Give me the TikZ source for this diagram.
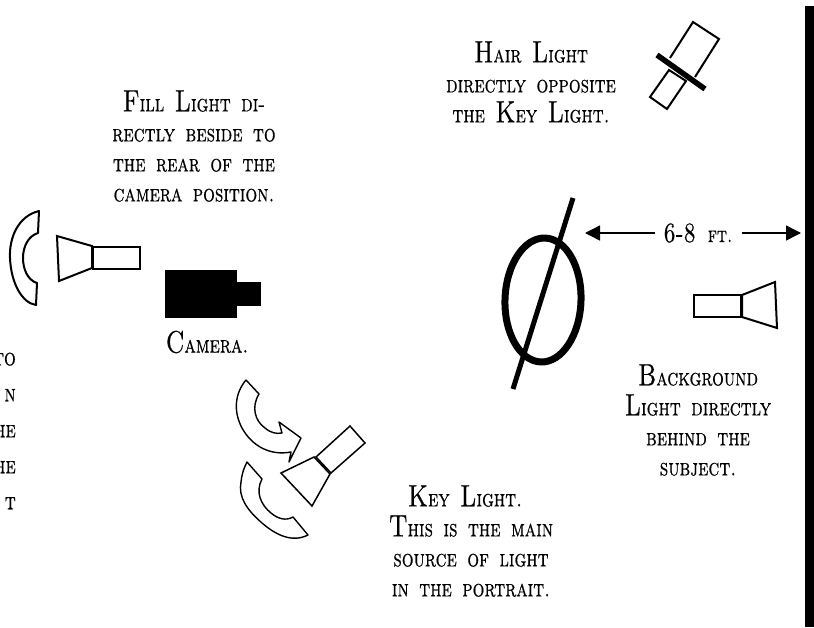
\documentclass[tikz,border=0pt]{standalone}
\usepackage{xcolor}
\usepackage{fontspec}
\newfontfamily\capfont[FakeStretch=0.77,FakeBold=0.5,WordSpace=1.5]{Latin Modern Roman Caps}
\newcommand{\ini}[1]{{\fontsize{31}{31}\selectfont #1}}
\usetikzlibrary{arrows.meta,shapes.geometric}
\tikzset{
  caption/.style={align=center, inner sep=0pt, font=\fontsize{24}{30}\capfont},
  fixture/.style={draw, line width=2pt, line join=miter, fill=white},
  keyfixture/.style={draw, line width=1.5pt, line join=miter, fill=white},
  shell/.style={draw, line width=1.4pt, line join=round, fill=white},
  span/.style={line width=1.4pt, -{Triangle[length=15pt,width=15pt]}}
}
\begin{document}
\begin{tikzpicture}[x=1pt, y=-1pt]
  \useasboundingbox (0,0) rectangle (814,627);
  % back wall and subject
  \fill (805,6) rectangle (814,627);
  \node (subject) [draw, ellipse, line width=7pt, minimum width=76pt, minimum height=124pt, inner sep=0pt, rotate=-2] at (543,300) {};
  \draw[line width=5pt] (573,198) -- (513,389);
  % distance
  \node (dist) [font=\fontsize{28}{30}\capfont, inner sep=0pt] at (698,233) {6-8 {\fontsize{22}{22}\selectfont ft.}};
  \coordinate (distl) at (585,233);
  \coordinate (distr) at (801,233);
  \draw[span] ([xshift=-8pt]dist.west) -- (distl);
  \draw[span] ([xshift=9pt]dist.east) -- (distr);
  % fill light
  \draw[shell, line width=2pt] (39,211) .. controls (18,216) and (9,238) .. (10,258) .. controls (11,283) and (22,303) .. (36,305) -- (37,283) .. controls (27,280) and (23,268) .. (23,258) .. controls (23,247) and (28,236) .. (38,233) -- cycle;
  \draw[fixture] (57,236) -- (92,246) -- (92,268) -- (59,281) -- cycle;
  \draw[fixture] (93,247) rectangle (140,269);
  % camera
  \fill (165,270) rectangle (237,318);
  \fill (237,282) rectangle (261,306);
  % key light
  \draw[shell] (246,380) -- (259,394) .. controls (251,407) and (255,421) .. (265,428) .. controls (271,433) and (276,434) .. (282,433) -- (279,422) -- (301,438) -- (289,462) -- (291,452) .. controls (270,456) and (252,446) .. (242,428) .. controls (233,411) and (235,393) .. (246,380) -- cycle;
  \draw[shell] (247,462) -- (262,479) .. controls (255,492) and (261,505) .. (271,513) .. controls (278,519) and (286,521) .. (293,517) -- (308,535) .. controls (292,543) and (276,535) .. (262,523) .. controls (247,510) and (238,497) .. (241,482) .. controls (242,473) and (244,468) .. (247,462) -- cycle;
  \draw[keyfixture] (281,473) -- (314,457) -- (330,474) -- (312,506) -- cycle;
  \draw[keyfixture] (316,457) -- (350,426) -- (365,443) -- (331,473) -- cycle;
  % hair light
  \draw[fixture] (670,58) -- (693,22) -- (719,39) -- (695,77);
  \draw[fixture] (669,70) -- (686,81) -- (667,109) -- (650,97) -- cycle;
  \draw[line width=5.5pt] (657,55) -- (705,89);
  % background light
  \draw[fixture] (694,295) rectangle (741,317);
  \draw[fixture] (742,295) -- (775,282) -- (777,328) -- (742,317) -- cycle;
  % labels
  \node (hair) [caption] at (531,82) {\ini{H}air \ini{L}ight\\ directly opposite\\ the \ini{K}ey \ini{L}ight.};
  \node (fill) [caption] at (194,146) {\ini{F}ill \ini{L}ight di-\\ rectly beside to\\ the rear of the\\ camera position.};
  \node (cam) [caption] at (207,342) {\ini{C}amera.};
  \node (key) [caption] at (471,541) {\ini{K}ey \ini{L}ight.\hspace*{12pt}\\ \ini{T}his is the main\\ source of light\\ in the portrait.};
  \node (bg) [caption] at (698,420) {\ini{B}ackground\\ \ini{L}ight directly\\ behind the\\ subject.};
  \node (cutoff) [caption, anchor=east, font=\fontsize{24}{36}\capfont, align=right] at (16,431) {to\\ n\\ he\\ he\\ t};
\end{tikzpicture}
\end{document}
